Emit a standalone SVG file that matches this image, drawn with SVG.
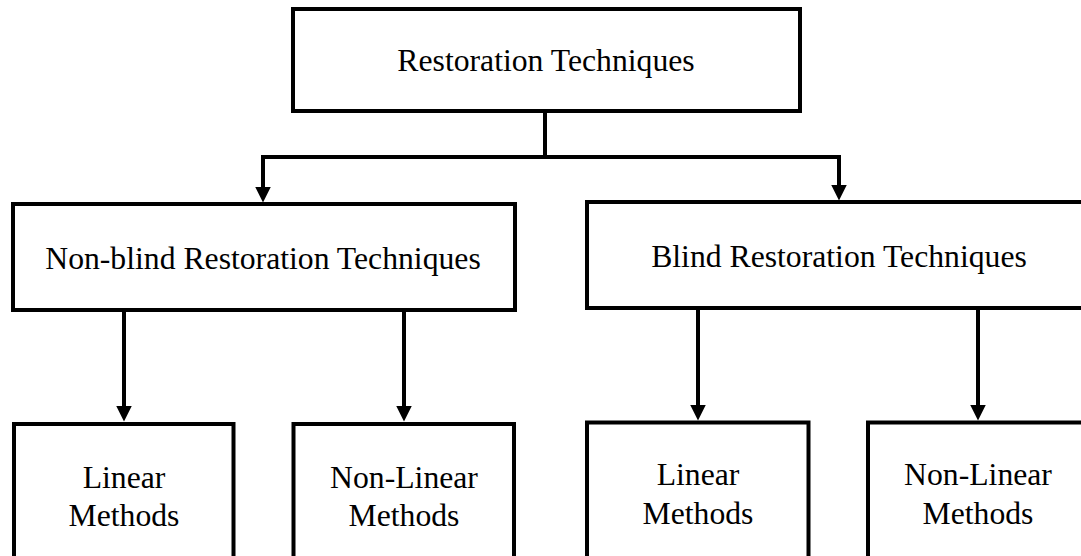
<svg xmlns="http://www.w3.org/2000/svg" width="1081" height="556" viewBox="0 0 1081 556">
  <style>
    .box { fill: #ffffff; stroke: #000000; stroke-width: 4; }
    .lbl { font-family: "Liberation Serif", "Times New Roman", serif; font-size: 31.7px; fill: #000000; text-anchor: middle; }
    .conn { fill: none; stroke: #000000; stroke-width: 4; stroke-linejoin: miter; }
  </style>
  <defs>
    <marker id="arrow" markerUnits="userSpaceOnUse" markerWidth="16" markerHeight="16" viewBox="0 0 16 16" refX="6" refY="8" orient="auto">
      <path d="M0,0 L16,8 L0,16 Z" fill="#000000"/>
    </marker>
  </defs>
  <rect width="1081" height="556" fill="#ffffff"/>

  <g id="connectors">
    <path class="conn" d="M545,111 V157 H263 V192.5" marker-end="url(#arrow)"/>
    <path class="conn" d="M545,157 H839 V190.5" marker-end="url(#arrow)"/>
    <path class="conn" d="M124,310 V411.5" marker-end="url(#arrow)"/>
    <path class="conn" d="M404,310 V411.5" marker-end="url(#arrow)"/>
    <path class="conn" d="M698,308 V410.5" marker-end="url(#arrow)"/>
    <path class="conn" d="M978,308 V410.5" marker-end="url(#arrow)"/>
  </g>

  <g id="restoration">
    <rect class="box" x="293" y="9" width="507" height="102"/>
    <text class="lbl" x="546" y="71">Restoration Techniques</text>
  </g>

  <g id="nonblind">
    <rect class="box" x="13" y="204" width="502" height="106"/>
    <text class="lbl" x="263" y="269">Non-blind Restoration Techniques</text>
  </g>

  <g id="blind">
    <rect class="box" x="587" y="202" width="510" height="106"/>
    <text class="lbl" x="839" y="267">Blind Restoration Techniques</text>
  </g>

  <g id="nb-linear">
    <rect class="box" x="14" y="424" width="219.5" height="134"/>
    <text class="lbl" x="124" y="488">Linear</text>
    <text class="lbl" x="124" y="526">Methods</text>
  </g>

  <g id="nb-nonlinear">
    <rect class="box" x="293.5" y="424" width="220.5" height="134"/>
    <text class="lbl" x="404" y="488">Non-Linear</text>
    <text class="lbl" x="404" y="526">Methods</text>
  </g>

  <g id="b-linear">
    <rect class="box" x="587" y="422.5" width="221.5" height="136"/>
    <text class="lbl" x="698" y="485">Linear</text>
    <text class="lbl" x="698" y="523.5">Methods</text>
  </g>

  <g id="b-nonlinear">
    <rect class="box" x="868" y="422.5" width="230" height="136"/>
    <text class="lbl" x="978" y="485">Non-Linear</text>
    <text class="lbl" x="978" y="523.5">Methods</text>
  </g>
</svg>
